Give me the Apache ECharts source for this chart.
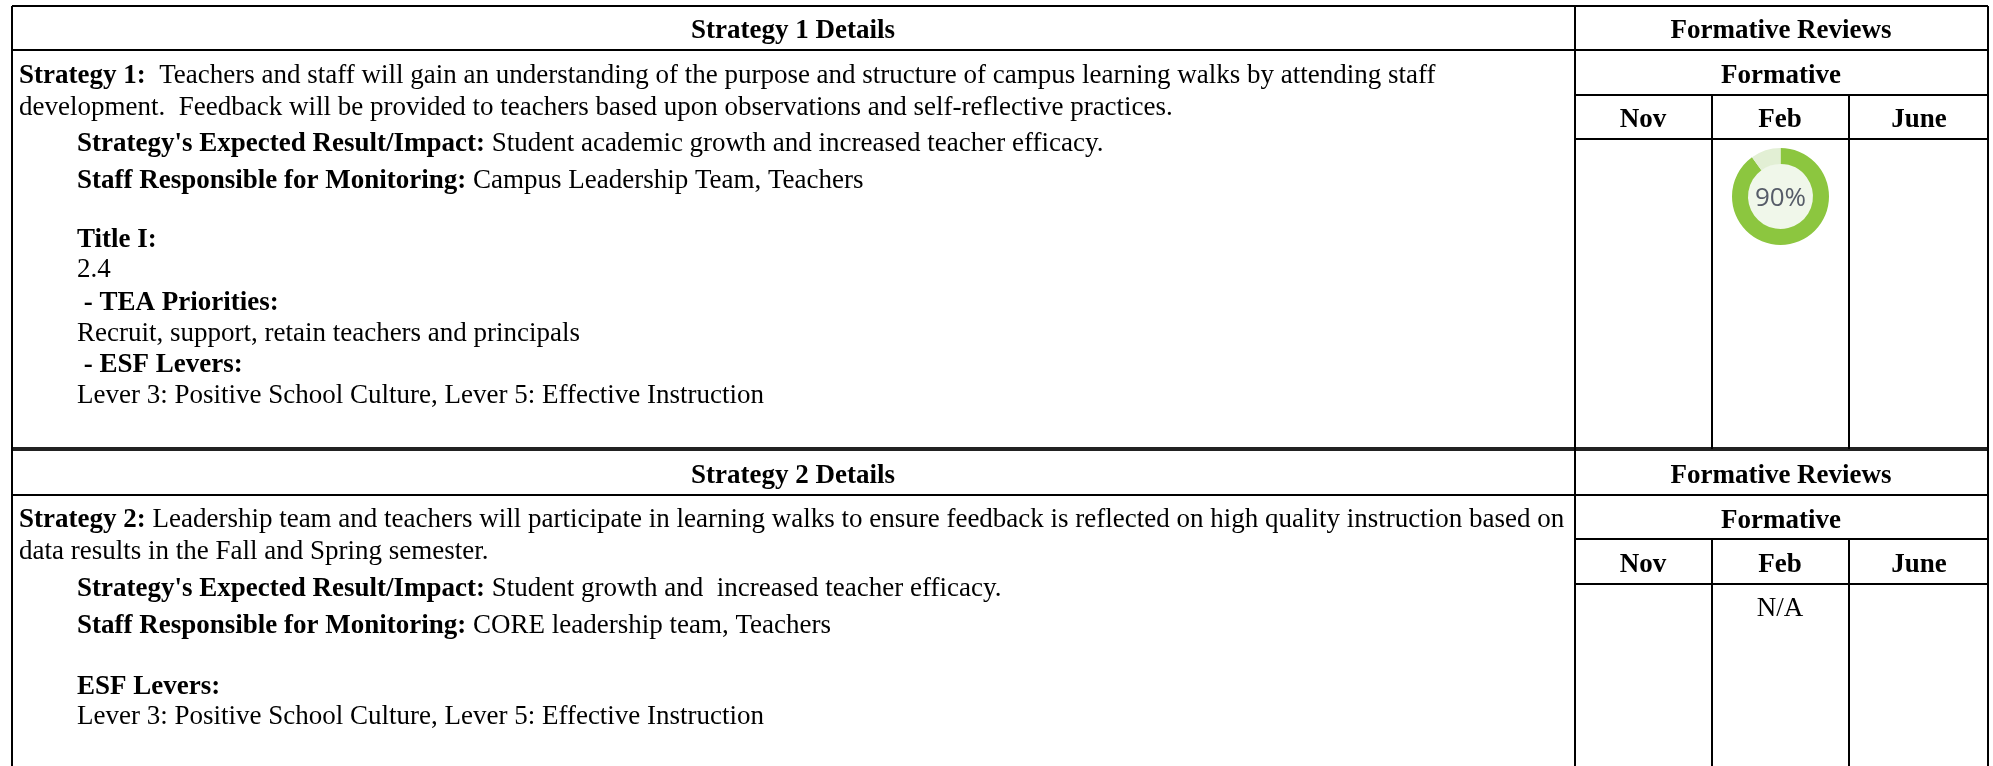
<!DOCTYPE html>
<html><head><meta charset="utf-8">
<style>html,body{margin:0;padding:0;background:#fff}#c{width:1993px;height:766px}</style>
<script src="https://cdn.jsdelivr.net/npm/echarts@6/dist/echarts.min.js"></script>
</head><body><div id="c"></div>
<script>
// data
const reviewLabels = ['Achieved', 'Remaining'];
const reviewValues = [90, 10];
const reviewText = '90%';
const months = ['Nov', 'Feb', 'June'];
const headers1 = ['Strategy 1 Details', 'Formative Reviews', 'Formative'];
const headers2 = ['Strategy 2 Details', 'Formative Reviews', 'Formative'];
const bodyLines1 = [
  ['Strategy 1:', '  Teachers and staff will gain an understanding of the purpose and structure of campus learning walks by attending staff', 0, 76],
  ['', 'development.  Feedback will be provided to teachers based upon observations and self-reflective practices.', 0, 108],
  ["Strategy's Expected Result/Impact:", ' Student academic growth and increased teacher efficacy.', 1, 144],
  ['Staff Responsible for Monitoring:', ' Campus Leadership Team, Teachers', 1, 181],
  ['Title I:', '', 1, 240],
  ['', '2.4', 1, 270],
  [' - TEA Priorities:', '', 1, 303],
  ['', 'Recruit, support, retain teachers and principals', 1, 334],
  [' - ESF Levers:', '', 1, 365],
  ['', 'Lever 3: Positive School Culture, Lever 5: Effective Instruction', 1, 396]
];
const bodyLines2 = [
  ['Strategy 2:', ' Leadership team and teachers will participate in learning walks to ensure feedback is reflected on high quality instruction based on', 0, 520],
  ['', 'data results in the Fall and Spring semester.', 0, 552],
  ["Strategy's Expected Result/Impact:", ' Student growth and  increased teacher efficacy.', 1, 589],
  ['Staff Responsible for Monitoring:', ' CORE leadership team, Teachers', 1, 626],
  ['ESF Levers:', '', 1, 687],
  ['', 'Lever 3: Positive School Culture, Lever 5: Effective Instruction', 1, 717]
];
const naText = 'N/A';

// layout
const FS = 27, serif = '"Liberation Serif","Times New Roman",serif';
const X = {l: 12, mid: 1575, a: 1712, b: 1849, r: 1988, text: 19, indent: 77};
const hLines = [[X.l,X.r,6,2],[X.l,X.r,50,2],[X.mid,X.r,95,2],[X.mid,X.r,139,2],[X.l,X.r,449,4],[X.l,X.r,495,2],[X.mid,X.r,539,2],[X.mid,X.r,584,2]];
const vLines = [[X.l,6,766,2],[X.mid,6,766,2],[X.a,95,449,2],[X.b,95,449,2],[X.a,539,766,2],[X.b,539,766,2],[X.r,6,766,2]];

const g = [];
hLines.forEach(([x1,x2,y,w]) => g.push({type:'line',shape:{x1,y1:y,x2,y2:y},style:{stroke:w>2?'#222':'#000',lineWidth:w}}));
vLines.forEach(([x,y1,y2,w]) => g.push({type:'line',shape:{x1:x,y1,x2:x,y2},style:{stroke:'#000',lineWidth:w}}));
function centered(text,x,y,weight){
  g.push({type:'text',x,y,style:{text,x:0,y:0,align:'center',verticalAlign:'middle',font:`${weight} ${FS}px ${serif}`,fill:'#000'}});
}
[[headers1,31,76,120],[headers2,476,521,565]].forEach(([h,y0,y1,y2])=>{
  centered(h[0],793,y0,'bold');
  centered(h[1],1781,y0,'bold');
  centered(h[2],1781,y1,'bold');
  months.forEach((m,i)=>centered(m,[1643,1780,1919][i],y2,'bold'));
});
centered(naText,1780,609,'normal');
bodyLines1.concat(bodyLines2).forEach(([b,n,ind,y])=>{
  const txt=(b?`{b|${b}}`:'')+(n?`{n|${n}}`:'');
  g.push({type:'text',x:ind?X.indent:X.text,y,style:{text:txt,x:0,y:0,verticalAlign:'middle',
    rich:{b:{fill:'#000',fontWeight:'bold',fontSize:FS,fontFamily:serif},n:{fontSize:FS,fontFamily:serif,fill:'#000'}}}});
});

const chart = echarts.init(document.getElementById('c'),null,{renderer:'canvas'});
chart.setOption({
  animation:false,
  backgroundColor:'#fff',
  graphic:{elements:g},
  series:[
    {type:'pie',silent:true,center:[1780.5,196.5],radius:[0,33],label:{show:false},labelLine:{show:false},
     data:[{name:'bg',value:reviewValues[0]+reviewValues[1],itemStyle:{color:'#f0f7ea'}}]},
    {type:'pie',silent:true,center:[1780.5,196.5],radius:[32.5,48.5],startAngle:90,clockwise:true,
     label:{show:false},labelLine:{show:false},
     data:reviewValues.map((v,i)=>({name:reviewLabels[i],value:v,itemStyle:{color:i?'#e2efd4':'#8cc63f'}}))},
    {type:'pie',silent:true,center:[1780.5,198.5],radius:[0,1],itemStyle:{color:'rgba(0,0,0,0)'},
     label:{show:true,position:'center',formatter:reviewText,fontFamily:'"Open Sans",sans-serif',fontSize:26,color:'#565c68'},labelLine:{show:false},
     data:[{name:'v',value:reviewValues[0]}]}
  ]
});
</script></body></html>
